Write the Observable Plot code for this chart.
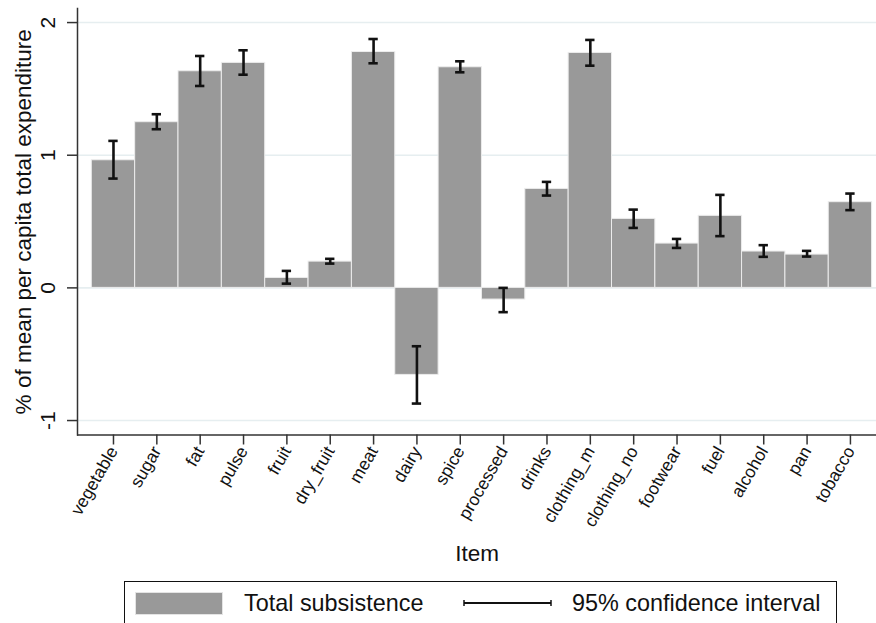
<!DOCTYPE html>
<html>
<head>
<meta charset="utf-8">
<script src="https://cdn.jsdelivr.net/npm/d3@7"></script>
<script src="https://cdn.jsdelivr.net/npm/@observablehq/plot@0.6"></script>
<style>
  html, body { margin: 0; padding: 0; background: #fff; }
  #wrap { position: relative; width: 876px; height: 623px; overflow: hidden; font-family: "Liberation Sans", Arial, sans-serif; }
  #chart svg { display: block; }
  #legend { position: absolute; left: 124px; top: 581px; width: 713px; height: 46px; border: 1.3px solid #111; box-sizing: border-box; }
  .lg { position: absolute; font-size: 23.4px; color: #111; white-space: nowrap; line-height: 1; }
</style>
</head>
<body>
<div id="wrap">
  <div id="chart"></div>
  <div id="legend">
    <div style="position:absolute;left:10px;top:10px;width:88px;height:23px;background:#999;box-sizing:border-box;border:1px solid #e4e4e4;"></div>
    <div class="lg" style="left:119px;top:10px;">Total subsistence</div>
    <svg style="position:absolute;left:338px;top:16px;" width="90" height="10">
      <line x1="1" y1="5" x2="88" y2="5" stroke="#111" stroke-width="2"/>
      <line x1="1" y1="2" x2="1" y2="8" stroke="#111" stroke-width="1.5"/>
      <line x1="88" y1="2" x2="88" y2="8" stroke="#111" stroke-width="1.5"/>
    </svg>
    <div class="lg" style="left:447px;top:10px;">95% confidence interval</div>
  </div>
</div>
<script>
const items = ["vegetable","sugar","fat","pulse","fruit","dry_fruit","meat","dairy","spice","processed","drinks","clothing_m","clothing_no","footwear","fuel","alcohol","pan","tobacco"];
const values = [0.962, 1.249, 1.633, 1.696, 0.075, 0.198, 1.778, -0.656, 1.663, -0.088, 0.746, 1.771, 0.520, 0.334, 0.543, 0.274, 0.251, 0.646];
const lower  = [0.824, 1.196, 1.522, 1.607, 0.032, 0.183, 1.693, -0.872, 1.625, -0.183, 0.696, 1.675, 0.452, 0.301, 0.390, 0.234, 0.236, 0.586];
const upper  = [1.108, 1.309, 1.748, 1.791, 0.128, 0.219, 1.876, -0.440, 1.708, 0.000, 0.799, 1.869, 0.590, 0.369, 0.701, 0.322, 0.279, 0.711];
const yTicks = [-1, 0, 1, 2];
const yTitle = "% of mean per capita total expenditure";
const xTitle = "Item";

const data = items.map((d, i) => ({item: d, value: values[i], lo: lower[i], hi: upper[i]}));
const yMin = -1.109, yMax = 2.106;

const chart = Plot.plot({
  width: 876,
  height: 575,
  marginTop: 8,
  marginBottom: 140.5,
  marginLeft: 77,
  marginRight: 0,
  style: {fontFamily: "'Liberation Sans', Arial, sans-serif", color: "#111", background: "#fff"},
  x: {domain: items, paddingInner: 0, paddingOuter: 0.2157, align: 0.765, round: false},
  y: {domain: [yMin, yMax]},
  marks: [
    Plot.gridY(yTicks, {stroke: "#e6eef0", strokeOpacity: 1, strokeWidth: 1.6}),
    Plot.barY(data, {x: "item", y: "value", fill: "#999999", stroke: "#ececec", strokeWidth: 1, inset: 0}),
    Plot.ruleX(data, {x: "item", y1: "lo", y2: "hi", stroke: "#111", strokeWidth: 2.6}),
    Plot.tickY(data, {x: "item", y: "lo", stroke: "#111", strokeWidth: 2.6, inset: 17}),
    Plot.tickY(data, {x: "item", y: "hi", stroke: "#111", strokeWidth: 2.6, inset: 17}),
    Plot.ruleY([yMin], {stroke: "#333", strokeWidth: 1.5}),
    Plot.frame({anchor: "left", stroke: "#333", strokeWidth: 1.5}),
    Plot.axisY({ticks: yTicks, tickSize: 10, tickFormat: () => "", stroke: "#333", strokeWidth: 1.5, label: null}),
    Plot.text(yTicks, {y: d => d, text: d => String(d), frameAnchor: "left", dx: -29, rotate: -90, fontSize: 21, textAnchor: "middle", lineAnchor: "middle", fill: "#111"}),
    Plot.text([yTitle], {frameAnchor: "left", dx: -54, rotate: -90, fontSize: 22.5, textAnchor: "middle", lineAnchor: "middle", fill: "#111"}),
    Plot.axisX({tickSize: 10, tickRotate: -60, tickPadding: 3, fontSize: 17.5, stroke: "#333", strokeWidth: 1.5, label: null}),
    Plot.text([xTitle], {frameAnchor: "bottom", dy: 118.5, fontSize: 22.5, textAnchor: "middle", lineAnchor: "middle", fill: "#111"})
  ]
});
document.getElementById("chart").appendChild(chart);
</script>
</body>
</html>
